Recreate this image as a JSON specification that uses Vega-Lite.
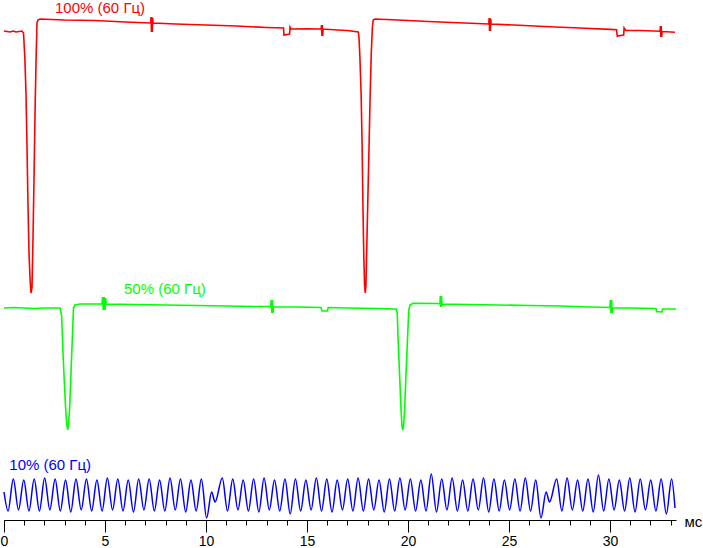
{
  "$schema": "https://vega.github.io/schema/vega-lite/v6.json",
  "width": 672,
  "height": 520,
  "autosize": {"type": "none"},
  "padding": {"left": 4, "top": 0, "right": 27, "bottom": 28},
  "background": "white",
  "config": {"view": {"stroke": null}},
  "datasets": {
    "blue": [
      {"t":0,"v":28},{"t":0.202,"v":9},{"t":0.46,"v":41},{"t":0.719,"v":10},{"t":0.978,"v":40},{"t":1.236,"v":9},{"t":1.495,"v":41},{"t":1.754,"v":9},{"t":2.012,"v":42},{"t":2.271,"v":10},
      {"t":2.53,"v":41},{"t":2.788,"v":9},{"t":3.047,"v":40},{"t":3.306,"v":8},{"t":3.564,"v":41},{"t":3.823,"v":10},{"t":4.082,"v":41},{"t":4.34,"v":9},{"t":4.599,"v":40},{"t":4.858,"v":9},
      {"t":5.116,"v":42},{"t":5.375,"v":10},{"t":5.634,"v":41},{"t":5.892,"v":9},{"t":6.151,"v":40},{"t":6.41,"v":8},{"t":6.668,"v":41},{"t":6.927,"v":10},{"t":7.186,"v":41},{"t":7.444,"v":9},
      {"t":7.703,"v":40},{"t":7.962,"v":9},{"t":8.22,"v":42},{"t":8.479,"v":10},{"t":8.738,"v":41},{"t":8.996,"v":8},{"t":9.255,"v":40},{"t":9.514,"v":9},{"t":9.772,"v":41},{"t":10.031,"v":2},
      {"t":10.28,"v":28},{"t":10.45,"v":18},{"t":10.807,"v":42},{"t":11.065,"v":9},{"t":11.324,"v":41},{"t":11.583,"v":10},{"t":11.841,"v":40},{"t":12.1,"v":9},{"t":12.359,"v":41},{"t":12.617,"v":8},
      {"t":12.876,"v":42},{"t":13.135,"v":10},{"t":13.393,"v":40},{"t":13.652,"v":9},{"t":13.911,"v":41},{"t":14.169,"v":6},{"t":14.428,"v":41},{"t":14.687,"v":9},{"t":14.945,"v":40},{"t":15.204,"v":10},
      {"t":15.463,"v":42},{"t":15.721,"v":9},{"t":15.98,"v":41},{"t":16.239,"v":8},{"t":16.497,"v":40},{"t":16.756,"v":10},{"t":17.015,"v":41},{"t":17.273,"v":9},{"t":17.532,"v":42},{"t":17.791,"v":9},
      {"t":18.049,"v":41},{"t":18.308,"v":10},{"t":18.567,"v":40},{"t":18.825,"v":8},{"t":19.084,"v":41},{"t":19.343,"v":9},{"t":19.601,"v":42},{"t":19.86,"v":10},{"t":20.119,"v":41},{"t":20.377,"v":9},
      {"t":20.636,"v":40},{"t":20.895,"v":9},{"t":21.153,"v":46},{"t":21.412,"v":8},{"t":21.671,"v":41},{"t":21.929,"v":10},{"t":22.188,"v":42},{"t":22.447,"v":9},{"t":22.705,"v":40},{"t":22.964,"v":9},
      {"t":23.222,"v":41},{"t":23.481,"v":10},{"t":23.74,"v":42},{"t":23.998,"v":8},{"t":24.257,"v":41},{"t":24.516,"v":9},{"t":24.774,"v":40},{"t":25.033,"v":10},{"t":25.292,"v":41},{"t":25.55,"v":9},
      {"t":25.809,"v":42},{"t":26.068,"v":9},{"t":26.326,"v":40},{"t":26.585,"v":2},{"t":26.84,"v":28},{"t":27.01,"v":18},{"t":27.361,"v":41},{"t":27.62,"v":9},{"t":27.878,"v":42},{"t":28.137,"v":10},
      {"t":28.396,"v":40},{"t":28.654,"v":9},{"t":28.913,"v":41},{"t":29.172,"v":8},{"t":29.43,"v":45},{"t":29.689,"v":9},{"t":29.948,"v":41},{"t":30.206,"v":10},{"t":30.465,"v":40},{"t":30.724,"v":9},
      {"t":30.982,"v":42},{"t":31.241,"v":8},{"t":31.5,"v":41},{"t":31.758,"v":10},{"t":32.017,"v":40},{"t":32.276,"v":9},{"t":32.534,"v":41},{"t":32.793,"v":6},{"t":33.052,"v":41},{"t":33.22,"v":12}
    ],
    "red": [
      {"t":0,"v":489},{"t":0.3,"v":488},{"t":0.45,"v":489},{"t":0.6,"v":488},{"t":0.891,"v":489},{"t":0.966,"v":487},{"t":1.03,"v":463},{"t":1.089,"v":427},{"t":1.139,"v":373},{"t":1.188,"v":315},
      {"t":1.238,"v":267},{"t":1.287,"v":242},{"t":1.337,"v":227},{"t":1.386,"v":232},{"t":1.436,"v":282},{"t":1.485,"v":340},{"t":1.535,"v":405},{"t":1.584,"v":457},{"t":1.634,"v":497},{"t":1.683,"v":500},
      {"t":1.782,"v":501},{"t":3.0,"v":500},{"t":4.5,"v":499.5},{"t":6.0,"v":498},{"t":7.26,"v":497},{"t":7.28,"v":503},{"t":7.3,"v":488},{"t":7.32,"v":503},{"t":7.34,"v":488},{"t":7.36,"v":502},
      {"t":7.38,"v":497},{"t":8.5,"v":496},{"t":10.0,"v":495},{"t":11.5,"v":494},{"t":13.0,"v":492.5},{"t":13.84,"v":492},{"t":13.86,"v":485},{"t":14.14,"v":486},{"t":14.16,"v":493},{"t":14.22,"v":491},
      {"t":15.0,"v":491.3},{"t":15.7,"v":491},{"t":15.72,"v":495},{"t":15.74,"v":484},{"t":15.76,"v":495},{"t":15.78,"v":484},{"t":15.8,"v":491},{"t":16.5,"v":490},{"t":17.0,"v":489.5},{"t":17.54,"v":488},
      {"t":17.574,"v":483},{"t":17.62,"v":463},{"t":17.68,"v":427},{"t":17.73,"v":375},{"t":17.77,"v":315},{"t":17.81,"v":267},{"t":17.85,"v":235},{"t":17.886,"v":227},{"t":17.92,"v":235},{"t":17.98,"v":290},
      {"t":18.05,"v":353},{"t":18.12,"v":417},{"t":18.18,"v":465},{"t":18.24,"v":493},{"t":18.28,"v":500},{"t":18.37,"v":501},{"t":19.5,"v":500},{"t":21.0,"v":498.5},{"t":22.5,"v":497.3},{"t":24.0,"v":496},
      {"t":24.02,"v":502},{"t":24.04,"v":489},{"t":24.06,"v":502},{"t":24.08,"v":489},{"t":24.1,"v":501},{"t":24.12,"v":496},{"t":25.5,"v":494.7},{"t":27.0,"v":493.3},{"t":28.5,"v":492},{"t":30.0,"v":490.6},
      {"t":30.33,"v":490.3},{"t":30.36,"v":484},{"t":30.68,"v":485},{"t":30.7,"v":492},{"t":30.78,"v":489.5},{"t":31.5,"v":489.5},{"t":32.48,"v":488.8},{"t":32.5,"v":494},{"t":32.52,"v":483},{"t":32.54,"v":494},
      {"t":32.56,"v":483},{"t":32.58,"v":488.5},{"t":33.22,"v":487.7}
    ],
    "green": [
      {"t":0,"v":212},{"t":0.5,"v":212.5},{"t":1.0,"v":212},{"t":1.5,"v":211.5},{"t":2.0,"v":212},{"t":2.5,"v":212},{"t":2.772,"v":212},{"t":2.85,"v":205},{"t":2.88,"v":190},{"t":2.93,"v":163},
      {"t":2.99,"v":137},{"t":3.05,"v":112},{"t":3.1,"v":97},{"t":3.153,"v":90},{"t":3.2,"v":97},{"t":3.25,"v":112},{"t":3.3,"v":138},{"t":3.35,"v":165},{"t":3.4,"v":190},{"t":3.44,"v":212},
      {"t":3.52,"v":215},{"t":3.76,"v":216},{"t":4.5,"v":216},{"t":4.85,"v":216},{"t":4.88,"v":223},{"t":4.92,"v":210},{"t":4.96,"v":223},{"t":5.0,"v":210},{"t":5.03,"v":222},{"t":5.06,"v":216},
      {"t":6.5,"v":215.5},{"t":8.0,"v":215},{"t":9.5,"v":214.5},{"t":11.0,"v":214},{"t":12.5,"v":213.5},{"t":13.2,"v":213.5},{"t":13.23,"v":220},{"t":13.26,"v":207},{"t":13.29,"v":220},{"t":13.32,"v":207},
      {"t":13.35,"v":213},{"t":14.5,"v":213},{"t":15.7,"v":212.5},{"t":15.74,"v":209},{"t":16.02,"v":209},{"t":16.05,"v":212.5},{"t":17.0,"v":212},{"t":18.5,"v":211.5},{"t":19.41,"v":211},{"t":19.47,"v":207},
      {"t":19.5,"v":187},{"t":19.55,"v":163},{"t":19.6,"v":138},{"t":19.65,"v":113},{"t":19.7,"v":95},{"t":19.74,"v":90},{"t":19.79,"v":95},{"t":19.84,"v":113},{"t":19.89,"v":140},{"t":19.94,"v":163},
      {"t":19.99,"v":187},{"t":20.04,"v":210},{"t":20.1,"v":215},{"t":20.25,"v":216.7},{"t":21.5,"v":216.5},{"t":21.58,"v":216},{"t":21.6,"v":224},{"t":21.63,"v":213},{"t":21.66,"v":224},{"t":21.69,"v":214},
      {"t":21.72,"v":216},{"t":23.0,"v":215.5},{"t":24.5,"v":215},{"t":26.0,"v":214.5},{"t":27.5,"v":214},{"t":29.0,"v":213},{"t":30.0,"v":212.5},{"t":30.02,"v":220},{"t":30.05,"v":207},{"t":30.08,"v":220},
      {"t":30.11,"v":207},{"t":30.14,"v":212},{"t":31.0,"v":212},{"t":32.28,"v":211.5},{"t":32.3,"v":208.5},{"t":32.58,"v":208},{"t":32.6,"v":211},{"t":33.27,"v":211}
    ],
    "labels": [
      {"label":"100% (60 Гц)","t":2.525,"v":507,"s":"red"},
      {"label":"50% (60 Гц)","t":5.94,"v":226,"s":"green"},
      {"label":"10% (60 Гц)","t":0.262,"v":50,"s":"blue"}
    ]
  },
  "layer": [
    {
      "data": {"name": "blue"},
      "mark": {"type": "line", "color": "#0000ff", "strokeWidth": 1.5, "interpolate": "monotone"},
      "encoding": {
        "x": {"field": "t", "type": "quantitative", "scale": {"domain": [0, 33.27], "nice": false, "zero": false},
          "axis": {"orient": "bottom", "values": [0,1,2,3,4,5,6,7,8,9,10,11,12,13,14,15,16,17,18,19,20,21,22,23,24,25,26,27,28,29,30,31,32,33],
            "tickSize": 5, "tickColor": "black", "tickWidth": 1, "labels": false, "domain": true, "domainColor": "black", "domainWidth": 1, "grid": false, "title": null}},
        "y": {"field": "v", "type": "quantitative", "scale": {"domain": [0, 520], "nice": false, "zero": false}, "axis": null}
      }
    },
    {
      "data": {"name": "red"},
      "mark": {"type": "line", "color": "#ff0000", "strokeWidth": 1.6},
      "encoding": {
        "x": {"field": "t", "type": "quantitative",
          "axis": {"orient": "bottom", "values": [0,5,10,15,20,25,30], "tickSize": 12, "tickColor": "black", "tickWidth": 1,
            "domain": false, "grid": false, "labelFont": "Liberation Sans", "labelFontSize": 14, "labelColor": "black", "labelPadding": 2,
            "labelFlush": false, "labelOverlap": false,
            "title": "мс", "titleX": 680, "titleY": 1, "titleAlign": "left", "titleBaseline": "middle", "titleAngle": 0,
            "titleFont": "Liberation Sans", "titleFontSize": 15, "titleFontWeight": "normal", "titleColor": "black"}},
        "y": {"field": "v", "type": "quantitative"}
      }
    },
    {
      "data": {"name": "green"},
      "mark": {"type": "line", "color": "#00ff00", "strokeWidth": 1.6},
      "encoding": {
        "x": {"field": "t", "type": "quantitative", "axis": null},
        "y": {"field": "v", "type": "quantitative"}
      }
    },
    {
      "data": {"name": "labels"},
      "mark": {"type": "text", "align": "left", "baseline": "alphabetic", "font": "Liberation Sans", "fontSize": 15},
      "encoding": {
        "x": {"field": "t", "type": "quantitative", "axis": null},
        "y": {"field": "v", "type": "quantitative"},
        "text": {"field": "label"},
        "color": {"field": "s", "type": "nominal", "scale": {"domain": ["red", "green", "blue"], "range": ["#ff0000", "#00ff00", "#0000ff"]}, "legend": null}
      }
    }
  ],
  "resolve": {"axis": {"x": "independent"}}
}
